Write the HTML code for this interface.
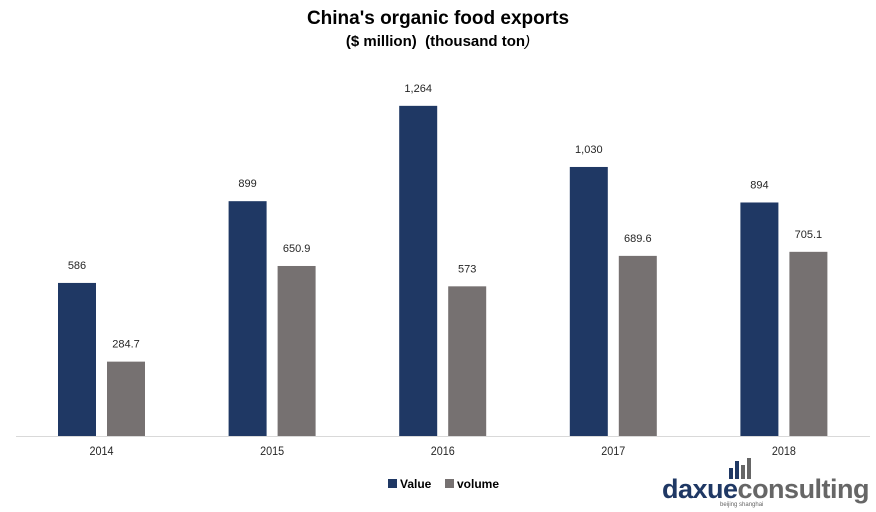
<!DOCTYPE html>
<html><head><meta charset="utf-8"><style>
body{margin:0;background:#fff;font-family:"Liberation Sans",sans-serif}
#wrap{position:relative;width:876px;height:512px;overflow:hidden}
</style></head><body>
<div id="wrap">
<svg id="svg" width="876" height="512">
<text x="438" y="24" text-anchor="middle" font-size="19" font-weight="bold" fill="#000">China's organic food exports</text>
<text x="438" y="46" text-anchor="middle" font-size="15" font-weight="bold" fill="#000">($ million)&#160; (thousand ton<tspan font-style="italic" font-weight="normal">)</tspan></text>
<line x1="16" y1="436.5" x2="870" y2="436.5" stroke="#d9d9d9" stroke-width="1"/>
<g id="bars"></g>
<rect x="388" y="479" width="9" height="9" fill="#1f3864"/>
<text x="400" y="488" font-size="12" font-weight="bold" fill="#000">Value</text>
<rect x="445" y="479" width="9" height="9" fill="#767171"/>
<text x="457" y="488" font-size="12" font-weight="bold" fill="#000">volume</text>
<g>
<rect x="729" y="468" width="4" height="11" fill="#1f3864"/>
<rect x="735" y="461" width="4" height="18" fill="#1f3864"/>
<rect x="741" y="465" width="4" height="14" fill="#666"/>
<rect x="747" y="458" width="4" height="21" fill="#666"/>
<text x="662" y="498" font-size="27" font-weight="bold" fill="#1f3864" letter-spacing="-0.5">daxue<tspan fill="#666">consulting</tspan></text>
<text x="720" y="506" font-size="6" fill="#666">beijing shanghai</text>
</g>
</svg>
<script>
const categories=["2014","2015","2016","2017","2018"];
const valueSeries=[586,899,1264,1030,894];
const volumeSeries=[284.7,650.9,573,689.6,705.1];
const valueLabels=["586","899","1,264","1,030","894"];
const volumeLabels=["284.7","650.9","573","689.6","705.1"];
const baseY=436, scale=0.2612, x0=101.5, step=170.6, bw=38;
const yPos=v=>baseY-v*scale;
const xCat=i=>x0+i*step;
const g=document.getElementById('bars');
const NS='http://www.w3.org/2000/svg';
function mk(tag,attrs){const e=document.createElementNS(NS,tag);for(const k in attrs)e.setAttribute(k,attrs[k]);return e;}
categories.forEach((c,i)=>{
  const cx=xCat(i);
  [[valueSeries,valueLabels,'#1f3864',-43.5,'value'],[volumeSeries,volumeLabels,'#767171',5.5,'volume']].forEach(([s,l,col,off,nm])=>{
    const y=yPos(s[i]);
    const r=mk('rect',{x:cx+off,y:y,width:bw,height:baseY-y,fill:col});
    
    
    g.appendChild(r);
    const t=mk('text',{x:cx+off+bw/2,y:y-14,'text-anchor':'middle','font-size':'11',fill:'#262626'});
    t.textContent=l[i];
    
    
    g.appendChild(t);
  });
  const t=mk('text',{x:cx,y:455,'text-anchor':'middle','font-size':'12',fill:'#262626',transform:'translate('+cx+',0) scale(0.9,1) translate('+(-cx)+',0)'});
  t.textContent=c;
  
  
  g.appendChild(t);
});
</script>
</div>
</body></html>
